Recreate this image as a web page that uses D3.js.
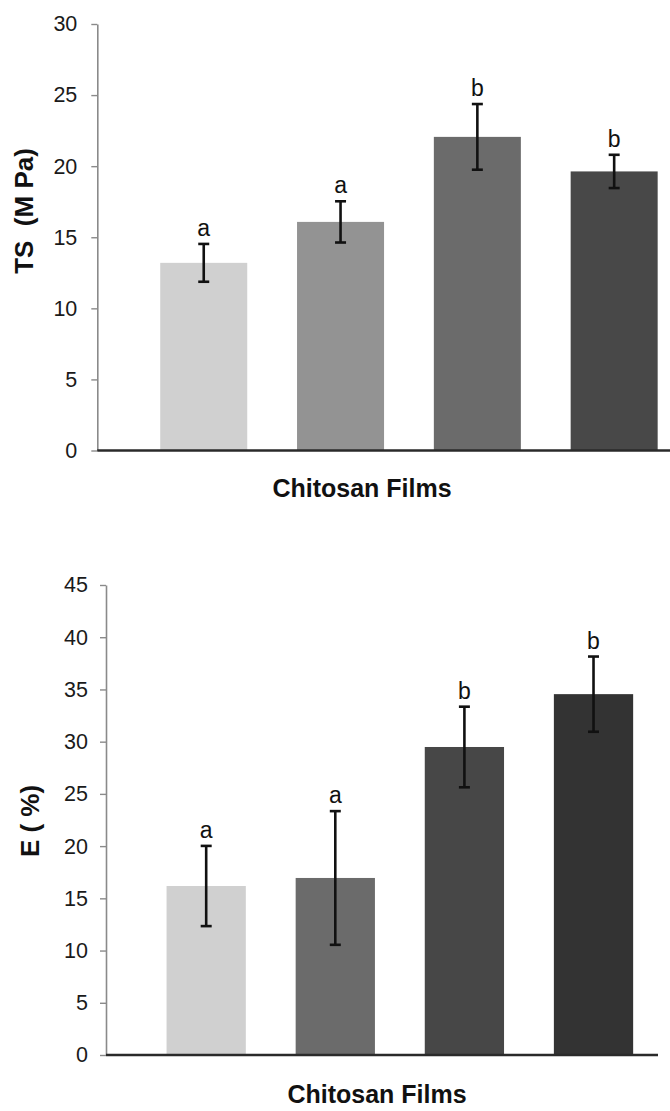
<!DOCTYPE html>
<html>
<head>
<meta charset="utf-8">
<script src="https://cdn.jsdelivr.net/npm/d3@7"></script>
<style>
  html, body { margin: 0; padding: 0; background: #fff; }
  svg { display: block; }
  text { font-family: "Liberation Sans", Arial, sans-serif; }
</style>
</head>
<body>
<svg id="chart" width="670" height="1111"></svg>
<script>
// films (no tick labels shown in the figure)
const films = ['1', '2', '3', '4'];

// tensile strength (MPa)
const tsMean = [13.2, 16.08, 22.06, 19.63];
const tsSD = [1.33, 1.45, 2.31, 1.17];
const tsLetters = ['a', 'a', 'b', 'b'];
const tsTicks = [0, 5, 10, 15, 20, 25, 30];
const tsColors = ['#d0d0d0', '#939393', '#6b6b6b', '#484848'];

// elongation (%)
const eMean = [16.18, 16.95, 29.49, 34.55];
const eSD = [3.84, 6.4, 3.86, 3.6];
const eLetters = ['a', 'a', 'b', 'b'];
const eTicks = [0, 5, 10, 15, 20, 25, 30, 35, 40, 45];
const eColors = ['#d0d0d0', '#6b6b6b', '#474747', '#333333'];

const svg = d3.select('#chart');

function drawPanel(p) {
  const g = svg.append('g');

  const x = d3.scaleBand()
    .domain(films)
    .range([p.left, p.right])
    .paddingInner(p.padInner)
    .paddingOuter(p.padOuter)
    .align(0.5);

  const y = d3.scaleLinear()
    .domain([0, d3.max(p.ticks)])
    .range([p.bottom, p.top]);

  const rows = films.map((f, i) => ({
    film: f, mean: p.mean[i], sd: p.sd[i], letter: p.letters[i], color: p.colors[i]
  }));

  // bars
  g.selectAll('.bar')
    .data(rows)
    .join('rect')
    .attr('class', 'bar')
    .attr('x', d => x(d.film))
    .attr('width', x.bandwidth())
    .attr('y', d => y(d.mean))
    .attr('height', d => y(0) - y(d.mean))
    .attr('fill', d => d.color);

  // y axis
  g.append('g')
    .attr('transform', `translate(${p.left},0)`)
    .call(d3.axisLeft(y).tickValues(p.ticks).tickSize(6).tickSizeOuter(0).tickPadding(p.tickPad))
    .call(a => a.select('.domain').attr('stroke', '#8a8a8a').attr('stroke-width', 1.6))
    .call(a => a.selectAll('.tick line').attr('stroke', '#8a8a8a').attr('stroke-width', 1.4))
    .call(a => a.selectAll('.tick text')
      .attr('fill', '#1a1a1a')
      .attr('font-size', '21.5px')
      .style('font-family', '"Liberation Sans", Arial, sans-serif'));

  // x axis baseline
  g.append('line')
    .attr('x1', p.left)
    .attr('x2', p.axisEnd)
    .attr('y1', y(0))
    .attr('y2', y(0))
    .attr('stroke', '#2a2a2a')
    .attr('stroke-width', 2.6);

  // error bars
  const cap = 5.5;
  const err = g.selectAll('.err')
    .data(rows)
    .join('g')
    .attr('class', 'err')
    .attr('stroke', '#111')
    .attr('stroke-width', 2.6);

  err.append('line')
    .attr('x1', d => x(d.film) + x.bandwidth() / 2)
    .attr('x2', d => x(d.film) + x.bandwidth() / 2)
    .attr('y1', d => y(d.mean + d.sd))
    .attr('y2', d => y(d.mean - d.sd));

  err.append('line')
    .attr('x1', d => x(d.film) + x.bandwidth() / 2 - cap)
    .attr('x2', d => x(d.film) + x.bandwidth() / 2 + cap)
    .attr('y1', d => y(d.mean + d.sd))
    .attr('y2', d => y(d.mean + d.sd));

  err.append('line')
    .attr('x1', d => x(d.film) + x.bandwidth() / 2 - cap)
    .attr('x2', d => x(d.film) + x.bandwidth() / 2 + cap)
    .attr('y1', d => y(d.mean - d.sd))
    .attr('y2', d => y(d.mean - d.sd));

  // significance letters
  g.selectAll('.letter')
    .data(rows)
    .join('text')
    .attr('class', 'letter')
    .attr('x', d => x(d.film) + x.bandwidth() / 2)
    .attr('y', d => y(d.mean + d.sd) - 8)
    .attr('text-anchor', 'middle')
    .attr('font-size', '23px')
    .attr('fill', '#111')
    .text(d => d.letter);

  // y title
  g.append('text')
    .attr('transform', `translate(${p.yTitleX},${p.yTitleY}) rotate(-90)`)
    .attr('text-anchor', 'middle')
    .attr('font-size', '26px')
    .attr('font-weight', 'bold')
    .attr('fill', '#111')
    .style('white-space', 'pre')
    .text(p.yTitle);

  // x title
  g.append('text')
    .attr('x', p.xTitleX)
    .attr('y', p.xTitleY)
    .attr('text-anchor', 'middle')
    .attr('font-size', '25px')
    .attr('font-weight', 'bold')
    .attr('fill', '#111')
    .text('Chitosan Films');
}

drawPanel({
  mean: tsMean, sd: tsSD, letters: tsLetters, ticks: tsTicks, colors: tsColors,
  left: 97.3, right: 720.6, top: 24, bottom: 450.5, axisEnd: 672,
  padInner: 0.364, padOuter: 0.46, tickPad: 14,
  yTitle: 'TS  (M Pa)', yTitleX: 33, yTitleY: 211,
  xTitleX: 362, xTitleY: 497
});

drawPanel({
  mean: eMean, sd: eSD, letters: eLetters, ticks: eTicks, colors: eColors,
  left: 106, right: 693.7, top: 585, bottom: 1055, axisEnd: 658,
  padInner: 0.386, padOuter: 0.469, tickPad: 12,
  yTitle: 'E ( %)', yTitleX: 39, yTitleY: 821,
  xTitleX: 377, xTitleY: 1103
});
</script>
</body>
</html>
